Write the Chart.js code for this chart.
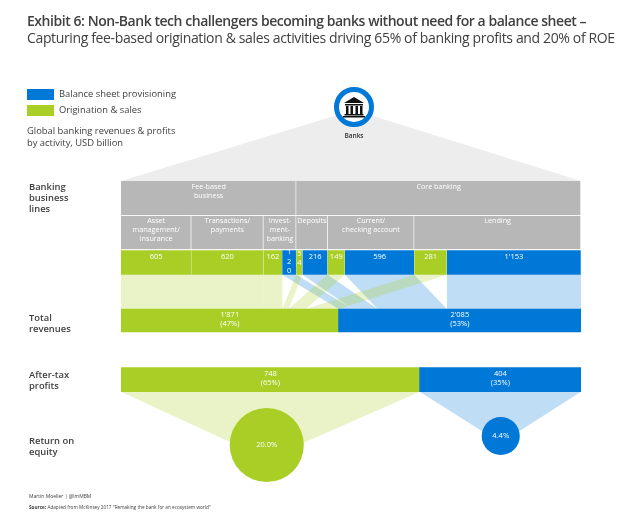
<!DOCTYPE html>
<html>
<head>
<meta charset="utf-8">
<script src="https://cdn.jsdelivr.net/npm/chart.js@4"></script>
<style>
    body { margin: 0; background: #fff; font-family: "Open Sans", sans-serif; color: #404040; }
    #wrap { position: relative; width: 640px; height: 517px; overflow: hidden; }
    canvas { position: absolute; left: 0; top: 0; }
    .t { position: absolute; white-space: nowrap; }
    .swatch { position: absolute; left: 27px; width: 27px; height: 11px; }
    .row { left: 29px; font-size: 9.4px; line-height: 11px; font-weight: 600; }
    .note { font-size: 9.4px; line-height: 12px; }
</style>
</head>
<body>
<div id="wrap">
    <canvas id="chart" width="640" height="517"></canvas>
    <div class="t" style="left:27px;top:12px;font-size:14px;line-height:18px;font-weight:600;letter-spacing:-0.45px">Exhibit 6: Non-Bank tech challengers becoming banks without need for a balance sheet –</div>
    <div class="t" style="left:27px;top:29px;font-size:14px;line-height:18px;letter-spacing:-0.36px">Capturing fee-based origination &amp; sales activities driving 65% of banking profits and 20% of ROE</div>
    <div class="swatch" style="top:89px;background:#0078d7"></div>
    <div class="swatch" style="top:105px;background:#a9cf26"></div>
    <div class="t note" style="left:59px;top:88px">Balance sheet provisioning</div>
    <div class="t note" style="left:59px;top:104px">Origination &amp; sales</div>
    <div class="t note" style="left:27px;top:125px">Global banking revenues &amp; profits<br>by activity, USD billion</div>
    <div class="t row" style="top:181px">Banking<br>business<br>lines</div>
    <div class="t row" style="top:312px">Total<br>revenues</div>
    <div class="t row" style="top:369px">After-tax<br>profits</div>
    <div class="t row" style="top:435px">Return on<br>equity</div>
    <div class="t" style="left:29px;top:492px;font-size:5px;line-height:8px">Martin Moeller | @lmMBM</div>
    <div class="t" style="left:29px;top:503px;font-size:4.7px;line-height:8px"><b>Source:</b> Adapted from McKinsey 2017 "Remaking the bank for an ecosystem world"</div>
</div>
<script>
// data
const segmentValues = [605, 620, 162, 120, 54, 216, 149, 596, 281, 1153];
const segmentKinds = ['o', 'o', 'o', 'b', 'o', 'b', 'o', 'b', 'o', 'b'];
const lineNames = [
    ['Asset', 'management/', 'insurance'],
    ['Transactions/', 'payments'],
    ['Invest-', 'ment-', 'banking'],
    ['Deposits'],
    ['Current/', 'checking account'],
    ['Lending']
];
const lineSegments = [1, 1, 2, 2, 2, 2];
const groupNames = [['Fee-based', 'business'], ['Core banking']];
const groupLines = [3, 3];
const totalRevenues = [1871, 2085];
const revenueShares = [47, 53];
const afterTaxProfits = [748, 404];
const profitShares = [65, 35];
const returnOnEquity = [20.0, 4.4];

// layout
const BLUE = '#0078d7', GREEN = '#a9cf26', GREY = '#b7b7b7';
const FLOW_BLUE = 'rgba(0,120,215,0.25)', FLOW_GREEN = 'rgba(170,207,38,0.26)';
const FONT = '"Open Sans", sans-serif';
const rowY = { groups: 198, lines: 232.5, segments: 262.5, total: 320.5, profit: 379.7 };
const rowH = { groups: 34, lines: 33.5, segments: 24.5, total: 23, profit: 24 };
const roeX = [365, 951];
const roeY = [445, 436];
const funnelApexY = [459, 443];
const bankIcon = { x: 354, y: 107, r: 17.5 };

const kindColor = k => k === 'b' ? BLUE : GREEN;
const roeRadius = v => 9.92 * Math.pow(v, 0.44);
const thousands = v => String(v).replace(/\B(?=(\d{3})+$)/g, "'");
const sum = a => a.reduce((s, v) => s + v, 0);

// turn consecutive values into [from, to] pairs
function spans(values) {
    let at = 0;
    return values.map(v => {
        const s = [at, at + v];
        at += v;
        return s;
    });
}

function chunk(values, sizes) {
    let i = 0;
    return sizes.map(n => {
        const s = sum(values.slice(i, i + n));
        i += n;
        return s;
    });
}

const lineValues = chunk(segmentValues, lineSegments);
const groupValues = chunk(lineValues, groupLines);

function barRow(values, key, colors, axis, extra) {
    return Object.assign({
        type: 'bar',
        stack: 'rows',
        xAxisID: axis,
        yAxisID: 'y',
        barThickness: rowH[key],
        backgroundColor: colors,
        borderSkipped: false,
        borderWidth: 0,
        data: spans(values).map(s => ({ x: s, y: rowY[key] }))
    }, extra);
}

const cellEdge = { borderColor: 'rgba(255,255,255,0.75)', borderWidth: { right: 1 } };

function poly(ctx, pts, fill) {
    ctx.beginPath();
    pts.forEach((p, i) => i ? ctx.lineTo(p[0], p[1]) : ctx.moveTo(p[0], p[1]));
    ctx.closePath();
    ctx.fillStyle = fill;
    ctx.fill();
}

function text(ctx, lines, x, y, step) {
    lines.forEach((l, i) => ctx.fillText(l, x, y + i * step));
}

const backdrop = {
    id: 'backdrop',
    beforeDatasetsDraw(chart) {
        const { ctx, scales: { x, x2, y } } = chart;
        const total = sum(segmentValues);

        // grey roof under the bank icon
        poly(ctx, [
            [x.getPixelForValue(0), y.getPixelForValue(181)],
            [bankIcon.x, y.getPixelForValue(110)],
            [x.getPixelForValue(total), y.getPixelForValue(181)]
        ], '#ededed');

        // flows from each business segment down to its revenue block
        const topY = y.getPixelForValue(rowY.segments + rowH.segments / 2);
        const botY = y.getPixelForValue(rowY.total - rowH.total / 2);
        const at = { o: 0, b: totalRevenues[0] };
        spans(segmentValues).forEach((s, i) => {
            const k = segmentKinds[i];
            const v = segmentValues[i];
            poly(ctx, [
                [x.getPixelForValue(s[0]), topY],
                [x.getPixelForValue(s[1]), topY],
                [x.getPixelForValue(at[k] + v), botY],
                [x.getPixelForValue(at[k]), botY]
            ], k === 'b' ? FLOW_BLUE : FLOW_GREEN);
            at[k] += v;
        });

        // funnels from the profit bars to the ROE circles
        const fy = y.getPixelForValue(rowY.profit + rowH.profit / 2);
        spans(afterTaxProfits).forEach((s, i) => {
            poly(ctx, [
                [x2.getPixelForValue(s[0]), fy],
                [x2.getPixelForValue(s[1]), fy],
                [x2.getPixelForValue(roeX[i]), y.getPixelForValue(funnelApexY[i])]
            ], i ? FLOW_BLUE : FLOW_GREEN);
        });
    }
};

function drawBankIcon(ctx) {
    const { x, y, r } = bankIcon;
    ctx.beginPath();
    ctx.arc(x, y, r, 0, Math.PI * 2);
    ctx.fillStyle = '#fff';
    ctx.fill();
    ctx.lineWidth = 5;
    ctx.strokeStyle = BLUE;
    ctx.stroke();

    ctx.fillStyle = '#111';
    poly(ctx, [[x - 10, y - 4], [x, y - 10], [x + 10, y - 4]], '#111');
    ctx.fillRect(x - 9, y - 3, 18, 1.5);
    [-8, -3.5, 1.5, 6].forEach(dx => ctx.fillRect(x + dx, y - 1, 2.5, 8));
    ctx.fillRect(x - 9.5, y + 7, 19, 1.5);
    ctx.fillRect(x - 11, y + 9, 22, 1.5);

    ctx.font = '600 6.5px ' + FONT;
    ctx.fillStyle = '#333';
    ctx.fillText('Banks', x, 136);
}

const labels = {
    id: 'labels',
    afterDatasetsDraw(chart) {
        const { ctx, scales: { x, x2, y } } = chart;
        ctx.save();
        ctx.textAlign = 'center';
        ctx.textBaseline = 'middle';

        ctx.fillStyle = '#fff';
        ctx.font = '7.2px ' + FONT;
        spans(groupValues).forEach((s, i) => {
            text(ctx, groupNames[i], x.getPixelForValue((s[0] + s[1]) / 2), y.getPixelForValue(186.5), 9);
        });
        spans(lineValues).forEach((s, i) => {
            text(ctx, lineNames[i], x.getPixelForValue((s[0] + s[1]) / 2), y.getPixelForValue(221), 9);
        });

        ctx.font = '7.5px ' + FONT;
        spans(segmentValues).forEach((s, i) => {
            const cx = x.getPixelForValue((s[0] + s[1]) / 2);
            const str = thousands(segmentValues[i]);
            // the narrow cells wrap their digits one under the other
            if (x.getPixelForValue(s[1]) - x.getPixelForValue(s[0]) < 15) {
                text(ctx, str.split(''), cx, y.getPixelForValue(252 + (3 - str.length) * 1.5), 9.5);
            } else {
                ctx.fillText(str, cx, y.getPixelForValue(256.5));
            }
        });
        spans(totalRevenues).forEach((s, i) => {
            text(ctx, [thousands(totalRevenues[i]), '(' + revenueShares[i] + '%)'],
                x.getPixelForValue((s[0] + s[1]) / 2), y.getPixelForValue(315), 9);
        });
        spans(afterTaxProfits).forEach((s, i) => {
            text(ctx, [thousands(afterTaxProfits[i]), '(' + profitShares[i] + '%)'],
                x2.getPixelForValue((s[0] + s[1]) / 2), y.getPixelForValue(373.5), 9);
        });
        returnOnEquity.forEach((v, i) => {
            ctx.fillText(v.toFixed(1) + '%', x2.getPixelForValue(roeX[i]), y.getPixelForValue(roeY[i]));
        });

        drawBankIcon(ctx);
        ctx.restore();
    }
};

new Chart(document.getElementById('chart').getContext('2d'), {
    type: 'bar',
    data: {
        datasets: [
            barRow(groupValues, 'groups', GREY, 'x', cellEdge),
            barRow(lineValues, 'lines', GREY, 'x', cellEdge),
            barRow(segmentValues, 'segments', segmentKinds.map(kindColor), 'x', { borderColor: 'rgba(255,255,255,0.5)', borderWidth: { right: 0.6 } }),
            barRow(totalRevenues, 'total', [GREEN, BLUE], 'x'),
            barRow(afterTaxProfits, 'profit', [GREEN, BLUE], 'x2'),
            {
                type: 'bubble',
                xAxisID: 'x2',
                yAxisID: 'y',
                backgroundColor: [GREEN, BLUE],
                borderWidth: 0,
                data: returnOnEquity.map((v, i) => ({ x: roeX[i], y: roeY[i], r: roeRadius(v) }))
            }
        ]
    },
    options: {
        indexAxis: 'y',
        responsive: false,
        animation: false,
        events: [],
        layout: { autoPadding: false, padding: { left: 121, right: 59, top: 0, bottom: 0 } },
        plugins: { legend: { display: false }, tooltip: { enabled: false } },
        scales: {
            x: { type: 'linear', display: false, stacked: false, min: 0, max: sum(segmentValues) },
            x2: { type: 'linear', display: false, stacked: false, min: 0, max: sum(afterTaxProfits) },
            y: { type: 'linear', display: false, reverse: true, offset: false, min: 0, max: 517 }
        }
    },
    plugins: [backdrop, labels]
});
</script>
</body>
</html>
